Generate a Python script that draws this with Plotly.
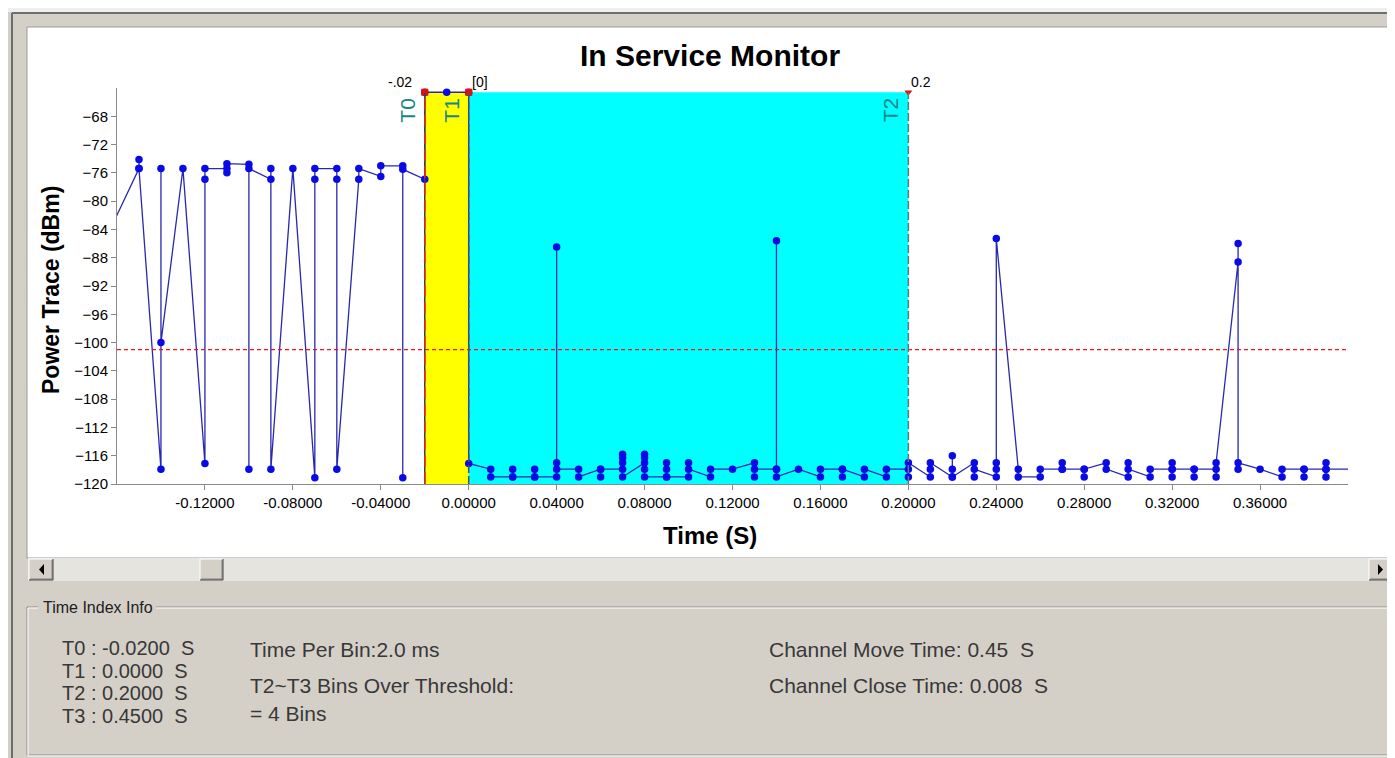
import plotly.graph_objects as go

# ---------------- data ----------------
bin_time_s = [-0.17, -0.15, -0.14, -0.13, -0.12, -0.11, -0.10, -0.09, -0.08, -0.07,
              -0.06, -0.05, -0.04, -0.03, -0.02, -0.01, 0.00, 0.01, 0.02, 0.03,
              0.04, 0.05, 0.06, 0.07, 0.08, 0.09, 0.10, 0.11, 0.12, 0.13,
              0.14, 0.15, 0.16, 0.17, 0.18, 0.19, 0.20, 0.21, 0.22, 0.23,
              0.24, 0.25, 0.26, 0.27, 0.28, 0.29, 0.30, 0.31, 0.32, 0.33,
              0.34, 0.35, 0.36, 0.37, 0.38, 0.39, 0.41]
bin_power_dbm = [
    [-88.5], [-75.4, -74.1, -75.4], [-117.9, -75.4, -100.0], [-75.4],
    [-117.1, -76.9, -75.4], [-75.4, -76.0, -74.7], [-74.8, -117.9, -75.4],
    [-76.9, -75.4, -117.9], [-75.4], [-119.1, -76.9, -75.4],
    [-75.4, -76.9, -117.9], [-76.9, -75.4], [-76.5, -75.0], [-75.0, -119.1, -75.5],
    [-76.9, -64.6], [-64.6], [-64.6, -117.1], [-117.9, -119.0],
    [-119.0, -117.9, -119.0], [-119.0, -117.9, -119.0],
    [-119.0, -117.0, -86.5, -117.9], [-117.9, -119.0], [-117.9, -119.0, -117.9],
    [-117.9, -115.8, -116.3, -117.0, -119.0], [-117.0, -115.8, -116.3, -117.9, -119.0],
    [-119.0, -117.0, -117.9, -119.0], [-119.0, -117.0, -117.9], [-119.0, -117.9],
    [-117.9], [-117.0, -119.0, -117.9],
    [-117.9, -85.6, -117.9, -119.0], [-117.9], [-119.0, -117.9],
    [-117.9, -119.0, -117.9], [-119.0, -117.9], [-119.0, -117.9],
    [-117.9, -119.0, -117.0], [-119.0, -117.9, -117.0], [-119.0, -116.0, -117.9, -119.0],
    [-117.0, -119.0, -117.9],
    [-119.0, -117.0, -117.9, -85.3], [-117.9, -119.0], [-119.0, -117.9],
    [-117.9, -117.0, -117.9], [-117.9, -119.0, -117.9], [-117.0, -117.9],
    [-119.0, -117.0, -117.9], [-119.0, -117.9], [-117.9, -117.0, -119.0, -117.9],
    [-117.9, -119.0, -117.9],
    [-117.9, -119.0, -117.0], [-88.6, -86.0, -117.9, -117.0], [-117.9],
    [-119.0, -117.9], [-117.9, -119.0, -117.9], [-117.9, -117.0, -119.0, -117.9],
    [-117.9],
]

cursor_names = ["T0", "T1", "T2"]
cursor_times = [-0.02, 0.0, 0.2]
cursor_tags = ["-.02", "[0]", "0.2"]
cursor_symbols = ["square", "square", "triangle-down"]
zone_top_dbm = -64.6
threshold_dbm = -101.0

x_tick_vals = [-0.12, -0.08, -0.04, 0.0, 0.04, 0.08, 0.12, 0.16, 0.20, 0.24, 0.28, 0.32, 0.36]
x_tick_text = ["%.5f" % v for v in x_tick_vals]
y_tick_vals = [-68, -72, -76, -80, -84, -88, -92, -96, -100, -104, -108, -112, -116, -120]

info_left = ["T0 : -0.0200 \u00a0S", "T1 : 0.0000 \u00a0S", "T2 : 0.2000 \u00a0S", "T3 : 0.4500 \u00a0S"]
info_mid = ["Time Per Bin:2.0 ms", "T2~T3 Bins Over Threshold:", "= 4 Bins"]
info_right = ["Channel Move Time: 0.45 \u00a0S", "Channel Close Time: 0.008 \u00a0S"]

# ---------------- geometry helpers ----------------
FIG_W, FIG_H = 1395, 758
L, R, T, B = 109, 55, 80, 282
PW = FIG_W - L - R
PH = FIG_H - T - B


def px(x):
    return (x - L) / PW


def py(y):
    return (FIG_H - B - y) / PH


FACE = "#D4D0C8"
FONT = "Liberation Sans, Arial, sans-serif"

time_s, power_dbm = [], []
for t, vals in zip(bin_time_s, bin_power_dbm):
    for v in vals:
        time_s.append(t)
        power_dbm.append(v)

fig = go.Figure()
fig.add_trace(go.Scatter(
    x=time_s, y=power_dbm, mode="lines+markers",
    line=dict(color="#2828B0", width=1.3),
    marker=dict(color="#0A0AE6", size=7.5),
    hoverinfo="x+y", showlegend=False,
))
fig.add_trace(go.Scatter(
    x=cursor_times, y=[zone_top_dbm] * len(cursor_times), mode="markers",
    marker=dict(color="#E01010", size=7, symbol=cursor_symbols),
    cliponaxis=False, showlegend=False, hoverinfo="skip",
))

shapes = []


def pline(x0, y0, x1, y1, color, width=1):
    shapes.append(dict(type="line", xref="paper", yref="paper",
                       x0=px(x0), y0=py(y0), x1=px(x1), y1=py(y1),
                       line=dict(color=color, width=width), layer="below"))


def prect(x0, y0, x1, y1, fill, line=None):
    shapes.append(dict(type="rect", xref="paper", yref="paper",
                       x0=px(x0), y0=py(y0), x1=px(x1), y1=py(y1),
                       fillcolor=fill, line=dict(width=0) if line is None else line,
                       layer="below"))


def ppath(points, fill):
    d = "M " + " L ".join("%f,%f" % (px(a), py(b)) for a, b in points) + " Z"
    shapes.append(dict(type="path", xref="paper", yref="paper", path=d,
                       fillcolor=fill, line=dict(width=0), layer="below"))


def button(x0, y0, x1, y1):
    prect(x0, y0, x1, y1, FACE)
    pline(x0, y0, x1, y0, "#FFFFFF")
    pline(x0, y0, x0, y1, "#FFFFFF")
    pline(x0 + 1, y1 - 1, x1 - 1, y1 - 1, "#808080")
    pline(x1 - 1, y0 + 1, x1 - 1, y1 - 1, "#808080")
    pline(x0, y1, x1, y1, "#404040")
    pline(x1, y0, x1, y1, "#404040")


# window frame
prect(0, 0, 1395, 4, "#EEEEEE")
pline(4, 5, 1391, 5, "#6E6E6E", 2)
pline(4, 5, 4, 756, "#6E6E6E", 2)
# white chart panel
prect(19, 19, 1386, 550, "#FFFFFF", dict(color="#9A9A9A", width=1))
# scrollbar
prect(20, 550, 1385, 573, "#E6E4DF")
button(21, 551, 45, 572)
ppath([(36, 556), (31, 561.5), (36, 567)], "#000000")
button(192, 551, 215, 572)
button(1361, 551, 1383, 572)
ppath([(1370, 556), (1375, 561.5), (1370, 567)], "#000000")
# group box (etched)
prect(19, 599, 1385, 747, "rgba(0,0,0,0)", dict(color="#8C8C8C", width=1))
prect(20, 600, 1386, 748, "rgba(0,0,0,0)", dict(color="#FFFFFF", width=1))
prect(30, 590, 148, 608, FACE)

# yellow / cyan zones
shapes.append(dict(type="rect", xref="x", yref="y", x0=cursor_times[0], x1=cursor_times[1],
                   y0=-120, y1=zone_top_dbm, fillcolor="#FFFF00", line=dict(width=0), layer="below"))
shapes.append(dict(type="rect", xref="x", yref="y", x0=cursor_times[1], x1=cursor_times[2],
                   y0=-120, y1=zone_top_dbm, fillcolor="#00FFFF", line=dict(width=0), layer="below"))
# threshold
shapes.append(dict(type="line", xref="paper", yref="y", x0=0, x1=1, y0=threshold_dbm, y1=threshold_dbm,
                   line=dict(color="#FF1010", width=1.4, dash="4px,3px"), layer="above"))
# cursor lines
shapes.append(dict(type="line", xref="x", yref="y", x0=cursor_times[0], x1=cursor_times[0],
                   y0=-120, y1=zone_top_dbm, line=dict(color="#3A3A70", width=1.5), layer="above"))
shapes.append(dict(type="line", xref="x", yref="y", x0=cursor_times[0], x1=cursor_times[0],
                   y0=-120, y1=zone_top_dbm, line=dict(color="#E02020", width=1.5, dash="12px,5px"),
                   layer="above"))
shapes.append(dict(type="line", xref="x", yref="y", x0=cursor_times[1], x1=cursor_times[1],
                   y0=-120, y1=zone_top_dbm, line=dict(color="#505060", width=1.5, dash="8px,3px"),
                   layer="above"))
shapes.append(dict(type="line", xref="x", yref="y", x0=cursor_times[2], x1=cursor_times[2],
                   y0=-120, y1=zone_top_dbm, line=dict(color="#707070", width=1.5, dash="8px,3px"),
                   layer="above"))

annotations = []


def ptext(x, y, text, size, color="#000000", xanchor="left", bold=False, angle=0):
    annotations.append(dict(xref="paper", yref="paper", x=px(x), y=py(y), text=text,
                            showarrow=False, xanchor=xanchor, yanchor="middle", textangle=angle,
                            font=dict(family=FONT, size=size, color=color,
                                      weight="bold" if bold else "normal")))


ptext(702, 48, "In Service Monitor", 30, xanchor="center", bold=True)
ptext(43, 282, "Power Trace (dBm)", 23, xanchor="center", bold=True, angle=-90)
ptext(702, 527, "Time (S)", 24, xanchor="center", bold=True)
ptext(33, 599, "Time Index Info", 16, color="#202020")
for i, s in enumerate(info_left):
    ptext(52, 640 + i * 22.5, s, 20, color="#383838")
for s, y in zip(info_mid, [641, 677, 705]):
    ptext(240, y, s, 21, color="#383838")
for s, y in zip(info_right, [641, 677]):
    ptext(759, y, s, 21, color="#383838")

for name, t, tag in zip(cursor_names, cursor_times, cursor_tags):
    annotations.append(dict(xref="x", yref="y", x=t, y=-67.1, text=name, showarrow=False,
                            textangle=-90, xanchor="center", yanchor="middle", xshift=-17,
                            font=dict(family=FONT, size=21, color="#178787")))
    right = tag.startswith("-")
    annotations.append(dict(xref="x", yref="y", x=t, y=zone_top_dbm, text=tag, showarrow=False,
                            xanchor="right" if right else "left", yanchor="middle",
                            xshift=-11 if right else 1, yshift=10,
                            font=dict(family=FONT, size=14, color="#000000")))

fig.update_layout(
    width=FIG_W, height=FIG_H,
    margin=dict(l=L, r=R, t=T, b=B, pad=0),
    paper_bgcolor=FACE, plot_bgcolor="#FFFFFF",
    shapes=shapes, annotations=annotations,
    showlegend=False,
    font=dict(family=FONT, size=15, color="#000000"),
)
fig.update_xaxes(range=[-0.16, 0.40], tickvals=x_tick_vals, ticktext=x_tick_text,
                 showgrid=False, zeroline=False, showline=True, linecolor="#8A8A8A", linewidth=1,
                 ticks="outside", ticklen=5, tickcolor="#8A8A8A", tickfont=dict(size=15),
                 fixedrange=True)
fig.update_yaxes(range=[-120, -64], tickvals=y_tick_vals,
                 showgrid=False, zeroline=False, showline=True, linecolor="#8A8A8A", linewidth=1,
                 ticks="outside", ticklen=5, tickcolor="#8A8A8A", tickfont=dict(size=15),
                 fixedrange=True)

fig.write_html("out.html")
